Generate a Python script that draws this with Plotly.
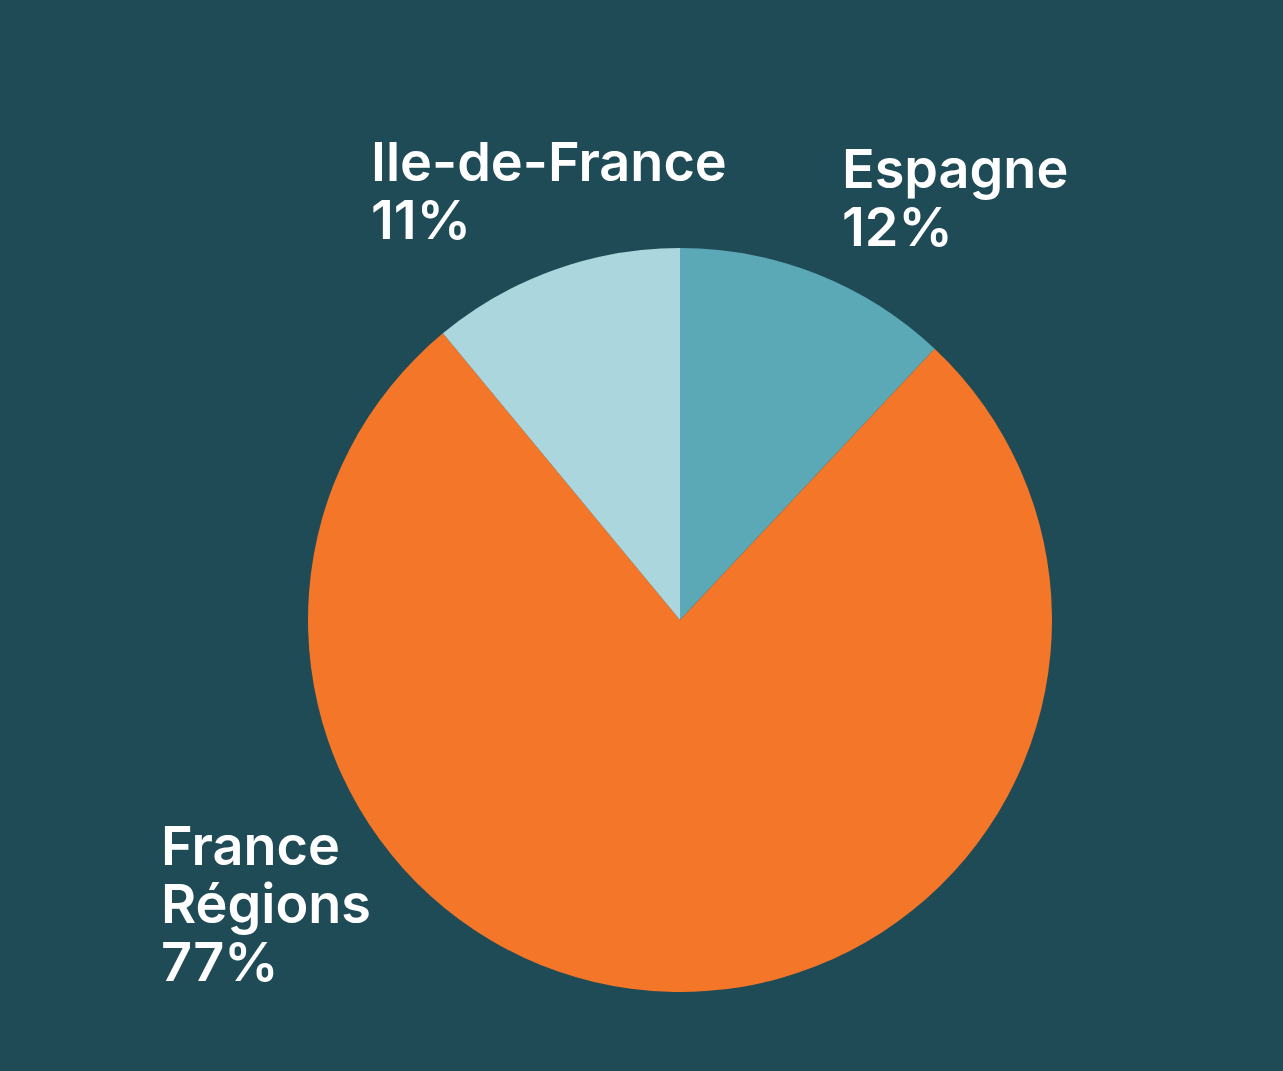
import plotly.graph_objects as go

labels = ["Espagne", "France Régions", "Ile-de-France"]
values = [12, 77, 11]
colors = ["#5BA8B6", "#F37629", "#ABD6DE"]
label_lines = [["Espagne"], ["France", "Régions"], ["Ile-de-France"]]

W, H = 1283, 1071
BG = "#1F4B57"

fig = go.Figure(go.Pie(
    labels=labels,
    values=values,
    marker=dict(colors=colors, line=dict(width=0)),
    sort=False,
    direction="clockwise",
    rotation=0,
    textinfo="none",
    hoverinfo="label+percent",
    showlegend=False,
    domain=dict(x=[308 / W, 1052 / W], y=[79 / H, 823 / H]),
))

# label anchor positions (px, left x and first-line centre y) and line step
anchors = [(840, 173), (159, 850), (369, 166)]
step = 58
font = dict(family="Inter", size=54, color="white", weight=600)
annotations = []
for (x0, y0), lines, v in zip(anchors, label_lines, values):
    all_lines = lines + [f"{v}%"]
    for i, t in enumerate(all_lines):
        annotations.append(dict(
            x=x0 / W, y=1 - (y0 + i * step) / H,
            xref="paper", yref="paper",
            xanchor="left", yanchor="middle",
            height=step - 2, valign="bottom",
            text=t, showarrow=False, font=font,
        ))

fig.update_layout(
    width=W, height=H,
    margin=dict(l=0, r=0, t=0, b=0),
    paper_bgcolor=BG, plot_bgcolor=BG,
    annotations=annotations,
)
fig.write_html("out.html")
